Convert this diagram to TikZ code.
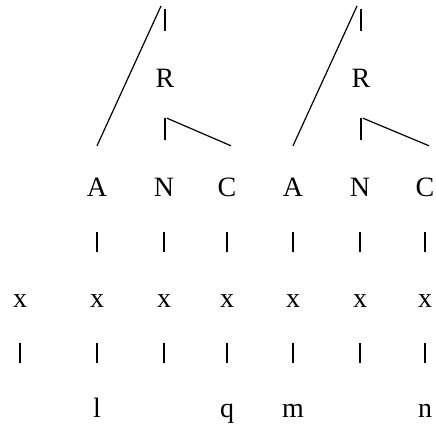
\documentclass[tikz,border=0pt]{standalone}
\usepackage{fontspec}
\setmainfont{Liberation Serif}
\begin{document}
\begin{tikzpicture}[x=1pt, y=-1pt,
  seg/.style={font=\fontsize{28}{32}\selectfont, anchor=base, inner sep=0pt,
    text height=20pt, text depth=6pt},
  assoc/.style={line width=2.2pt},
  branch/.style={line width=1.2pt}]
  \useasboundingbox (0,0) rectangle (436,428);

  % --- 1. skeleton row (x) ---
  \foreach \i/\px in {0/20, 1/97, 2/164, 3/227, 4/293, 5/360, 6/425}
    \node[seg] (x\i) at (\px,307) {x};

  % --- 2. segments A N C A N C ---
  \foreach \i/\px/\t in {1/97/A, 2/164/N, 3/227/C, 4/293/A, 5/360/N, 6/425/C}
    \node[seg] (s\i) at (\px,196) {\t};

  % --- 3. melody row ---
  \node[seg] (l) at (97,417)  {l};
  \node[seg] (q) at (227,417) {q};
  \node[seg] (m) at (293,417) {m};
  \node[seg] (n) at (425,417) {n};

  % --- 4. association lines ---
  \foreach \i in {1,...,6}
    \draw[assoc, shorten <=30pt, shorten >=35pt] (s\i) -- (x\i);
  \foreach \i in {0,...,6}
    \draw[assoc] ([yshift=-30pt]x\i.south) -- ++(0,20);

  % --- 5. R nodes and branches ---
  \node[seg] (R1) at (165,87) {R};
  \node[seg] (R2) at (361,87) {R};
  \coordinate (top1) at (161,6);
  \coordinate (top2) at (357,6);

  \draw[branch] ([yshift=30pt]s1.north) -- (top1);
  \draw[branch] ([yshift=30pt]s4.north) -- (top2);
  \foreach \r/\c in {R1/s3, R2/s6} {
    \draw[assoc] ([yshift=36pt]\r.north) -- ++(0,-22);
    \draw[assoc] ([yshift=-25pt]\r.south) -- ++(0,22);
    \draw[branch] ([shift={(2pt,-25pt)}]\r.south) -- ([shift={(4pt,30pt)}]\c.north);
  }

\end{tikzpicture}
\end{document}
